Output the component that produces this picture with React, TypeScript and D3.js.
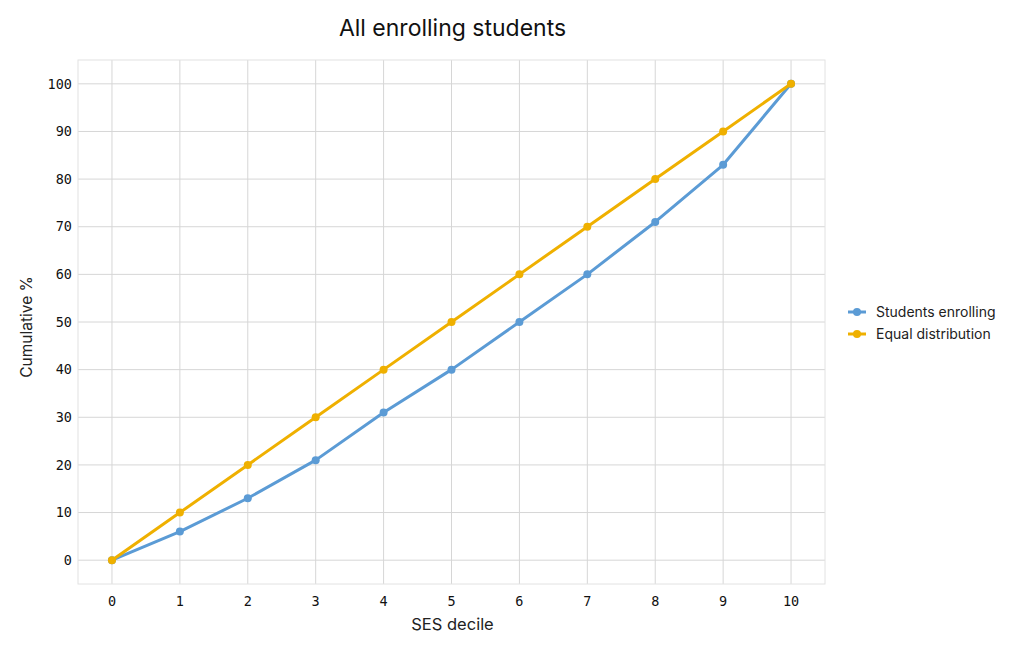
import React from "react";
import * as d3 from "d3";

const deciles = [0, 1, 2, 3, 4, 5, 6, 7, 8, 9, 10];
const studentsEnrolling = [0, 6, 13, 21, 31, 40, 50, 60, 71, 83, 100];
const equalDistribution = [0, 10, 20, 30, 40, 50, 60, 70, 80, 90, 100];
const yTicks = [0, 10, 20, 30, 40, 50, 60, 70, 80, 90, 100];
const seriesNames = ["Students enrolling", "Equal distribution"];
const seriesColors = ["#5b9bd5", "#efb000"];

const W = 1024;
const H = 652;
const M = { left: 78, right: 825, top: 60, bottom: 584 };

export default function App() {
  const x = d3.scaleLinear().domain([-0.5, 10.5]).range([M.left, M.right]);
  const y = d3.scaleLinear().domain([-5, 105]).range([M.bottom, M.top]);
  const line = d3
    .line<number>()
    .x((_, i) => x(deciles[i]))
    .y((d) => y(d));
  const series = [studentsEnrolling, equalDistribution];
  const sans = "Inter, 'Noto Sans', sans-serif";
  const mono = "'DejaVu Sans Mono', monospace";
  return (
    <svg
      width={W}
      height={H}
      style={{ position: "absolute", left: 0, top: 0, background: "#fff" }}
    >
      <rect x={0} y={0} width={W} height={H} fill="#fff" />
      {deciles.map((d) => (
        <line
          key={"gx" + d}
          x1={x(d)}
          x2={x(d)}
          y1={M.top}
          y2={M.bottom}
          stroke="#d6d6d6"
          strokeWidth={1}
        />
      ))}
      {yTicks.map((t) => (
        <line
          key={"gy" + t}
          x1={M.left}
          x2={M.right}
          y1={y(t)}
          y2={y(t)}
          stroke="#d6d6d6"
          strokeWidth={1}
        />
      ))}
      <rect
        x={M.left}
        y={M.top}
        width={M.right - M.left}
        height={M.bottom - M.top}
        fill="none"
        stroke="#e2e2e2"
        strokeWidth={1}
      />
      {yTicks.map((t) => (
        <text
          key={"ty" + t}
          x={72}
          y={y(t)}
          dy="0.35em"
          textAnchor="end"
          fontFamily={mono}
          fontSize={13.5}
          fill="#111"
        >
          {t}
        </text>
      ))}
      {deciles.map((d) => (
        <text
          key={"tx" + d}
          x={x(d)}
          y={601}
          dy="0.35em"
          textAnchor="middle"
          fontFamily={mono}
          fontSize={13.5}
          fill="#111"
        >
          {d}
        </text>
      ))}
      {series.map((s, si) => (
        <g key={"s" + si}>
          <path
            d={line(s) || ""}
            fill="none"
            stroke={seriesColors[si]}
            strokeWidth={3}
            strokeLinejoin="round"
          />
          {s.map((v, i) => (
            <circle
              key={i}
              cx={x(deciles[i])}
              cy={y(v)}
              r={4}
              fill={seriesColors[si]}
            />
          ))}
        </g>
      ))}
      <text
        x={(M.left + M.right) / 2 + 1}
        y={28}
        dy="0.35em"
        textAnchor="middle"
        fontFamily={sans}
        fontSize={23}
        fill="#111"
      >
        All enrolling students
      </text>
      <text
        x={(M.left + M.right) / 2 + 1}
        y={624}
        dy="0.35em"
        textAnchor="middle"
        fontFamily={sans}
        fontSize={16.5}
        fill="#222"
      >
        SES decile
      </text>
      <text
        transform={`translate(27,${(M.top + M.bottom) / 2 + 5}) rotate(-90)`}
        dy="0.35em"
        textAnchor="middle"
        fontFamily={sans}
        fontSize={15.5}
        fill="#222"
      >
        Cumulative %
      </text>
      {seriesNames.map((n, i) => (
        <g key={"l" + n} transform={`translate(848,${312 + i * 22})`}>
          <line x1={0} x2={18} y1={0} y2={0} stroke={seriesColors[i]} strokeWidth={3} />
          <circle cx={9} cy={0} r={4} fill={seriesColors[i]} />
          <text
            x={28}
            y={0}
            dy="0.35em"
            fontFamily={sans}
            fontSize={14}
            fill="#222"
          >
            {n}
          </text>
        </g>
      ))}
    </svg>
  );
}
